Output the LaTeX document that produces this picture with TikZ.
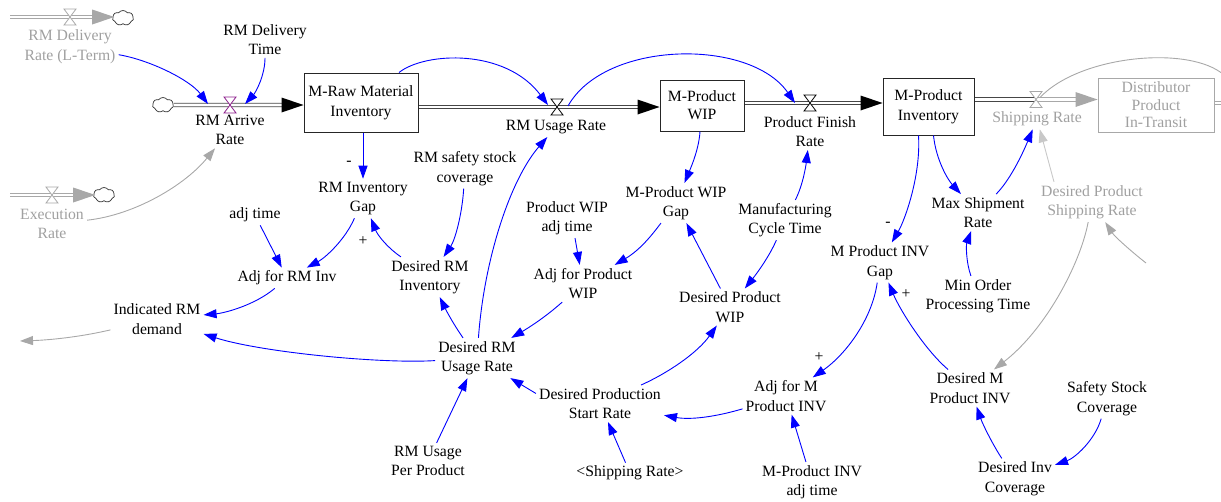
\documentclass[tikz,border=0pt]{standalone}
\usepackage{fontspec}
\setmainfont{Liberation Serif}
\usetikzlibrary{arrows.meta,calc,shapes.symbols}
\definecolor{linkblue}{RGB}{0,0,255}
\definecolor{ghost}{RGB}{160,160,160}
\definecolor{ghostlink}{RGB}{168,168,168}
\definecolor{ghostlight}{RGB}{200,200,200}
\definecolor{valvepurple}{RGB}{140,30,140}
\definecolor{pipegray}{RGB}{70,70,70}
\newcommand\vfont{\fontsize{15.7}{19.5}\selectfont}
\newcommand\flowhead[2][black]{\fill[#1] (#2) -- ++(-22,-7.5) -- ++(0,15) -- cycle;}
\tikzset{
  var/.style={align=center, font=\vfont, inner sep=3pt},
  gvar/.style={var, text=ghost},
  stock/.style={draw=black!85, line width=1pt, align=center, font=\vfont, inner sep=0pt},
  link/.style={draw=linkblue, line width=0.9pt, -{Triangle[length=13pt,width=9pt]}},
  glink/.style={link, draw=ghostlink},
  pipe/.style={draw=pipegray, line width=0.9pt, double=white, double distance=2.6pt},
  gpipe/.style={pipe, draw=ghostlink},
  cloudnode/.style={cloud, draw=black!80, cloud puffs=7, cloud puff arc=110,
    minimum width=21pt, minimum height=15pt, inner sep=0pt, fill=white, line width=0.7pt},
  valve/.pic={
    \draw[fill=white, line width=0.8pt, pic actions] (-6,-8) -- (6,-8) -- (-6,8) -- (6,8) -- cycle;
  },
  sign/.style={font=\vfont, inner sep=0pt},
}
\begin{document}
\begin{tikzpicture}[x=1pt, y=-1pt]
\path[use as bounding box, clip] (0,0) rectangle (1221,501);

% ---------- stocks ----------
\node[stock, minimum width=114pt, minimum height=59pt] (mraw) at (361,102.5) {M-Raw Material\\Inventory};
\node[stock, minimum width=84pt, minimum height=51pt, font=\fontsize{15.7}{18}\selectfont] (mpw) at (702,105.5) {M-Product\\WIP};
\node[stock, minimum width=91pt, minimum height=57pt] (inv) at (928.5,106.5) {M-Product\\Inventory};
\node[stock, draw=ghostlink, text=ghost, minimum width=116pt, minimum height=54pt,
      font=\fontsize{15.7}{17.5}\selectfont] (dist) at (1156,105) {Distributor\\Product\\In-Transit};

% ---------- valve positions and free ends ----------
\coordinate (vArr)  at (230,105);
\coordinate (vUse)  at (557,107);
\coordinate (vFin)  at (810,103);
\coordinate (vShip) at (1036,99.5);
\coordinate (vDel)  at (70,17);
\coordinate (vExe)  at (52,195);
\coordinate (srcDel) at (10,17);
\coordinate (srcExe) at (10,195);
\coordinate (irdOut) at (20,341);
\coordinate (dpshIn) at (1146,263);
\coordinate (shipArcEnd) at (1224,75);

% ---------- clouds ----------
\node[cloudnode] (cl1) at (163,105) {};
\node[cloudnode] (cl2) at (123,18) {};
\node[cloudnode] (cl3) at (104,195) {};

% ---------- pipes ----------
\draw[pipe] (cl1.east) -- ($(mraw.west|-vArr)+(-20,0)$);
\flowhead{mraw.west|-vArr}
\draw[pipe] (mraw.east|-vUse) -- ($(mpw.west|-vUse)+(-20,0)$);
\flowhead{mpw.west|-vUse}
\draw[pipe] (mpw.east|-vFin) -- ($(inv.west|-vFin)+(-20,0)$);
\flowhead{inv.west|-vFin}
\draw[pipe] (inv.east|-vShip) -- (vShip);
\draw[gpipe] (vShip) -- ($(dist.west|-vShip)+(-20,0)$);
\flowhead[ghostlink]{dist.west|-vShip}
\draw[gpipe] (dist.east|-0,103) -- (1226,103);
\draw[gpipe] (srcDel) -- ($(cl2.west|-vDel)+(-18,0)$);
\flowhead[ghostlink]{$(cl2.west|-vDel)+(2,0)$}
\draw[gpipe] (srcExe) -- ($(cl3.west|-vExe)+(-18,0)$);
\flowhead[ghostlink]{$(cl3.west|-vExe)+(2,0)$}

% ---------- valves ----------
\pic[draw=valvepurple] at (vArr) {valve};
\pic[draw=black] at (vUse) {valve};
\pic[draw=black] at (vFin) {valve};
\pic[draw=ghostlink] at (vShip) {valve};
\pic[draw=ghostlink] at (vDel) {valve};
\pic[draw=ghostlink] at (vExe) {valve};

% ---------- auxiliaries ----------
\node[gvar] (rmdr) at (70,46.5) {RM Delivery\\Rate (L-Term)};
\node[var] (rmdt) at (265,39.5) {RM Delivery\\Time};
\node[var] (rmar) at (230,130) {RM Arrive\\Rate};
\node[var] (rmur) at (556,127) {RM Usage Rate};
\node[var] (pfr) at (810,131.5) {Product Finish\\Rate};
\node[gvar] (shr) at (1037,119) {Shipping Rate};
\node[gvar] (exr) at (52,224) {Execution\\Rate};
\node[var] (rmig) at (363,198.5) {RM Inventory\\Gap};
\node[var] (adjt) at (255,215) {adj time};
\node[var] (arm) at (287,278) {Adj for RM Inv};
\node[var] (drmi) at (430,277) {Desired RM\\Inventory};
\node[var] (rmss) at (465,168.5) {RM safety stock\\coverage};
\node[var] (ird) at (157,319) {Indicated RM\\demand};
\node[var] (drmur) at (477,358) {Desired RM\\Usage Rate};
\node[var] (rmupp) at (428,461) {RM Usage\\Per Product};
\node[var] (dpsr) at (600,403.5) {Desired Production\\Start Rate};
\node[var] (shrg) at (630,473) {<Shipping Rate>};
\node[var] (amp) at (786,396) {Adj for M\\Product INV};
\node[var] (mpiat) at (812,482) {M-Product INV\\adj time};
\node[var] (mpig) at (880,262.5) {M Product INV\\Gap};
\node[var] (dmpi) at (970,388) {Desired M\\Product INV};
\node[var] (dic) at (1015,478.5) {Desired Inv\\Coverage};
\node[var] (ssc) at (1107,398.5) {Safety Stock\\Coverage};
\node[gvar] (dpsh) at (1092,202) {Desired Product\\Shipping Rate};
\node[var] (msr) at (978,212.5) {Max Shipment\\Rate};
\node[var] (mopt) at (978,296) {Min Order\\Processing Time};
\node[var] (mct) at (785,220) {Manufacturing\\Cycle Time};
\node[var] (dpw) at (730,307) {Desired Product\\WIP};
\node[var] (mpwg) at (676,203) {M-Product WIP\\Gap};
\node[var] (pwat) at (567,218) {Product WIP\\adj time};
\node[var] (apw) at (583,283.5) {Adj for Product\\WIP};

% ---------- polarity signs ----------
\node[sign] (sg1) at (349,163) {-};
\node[sign] (sg2) at (363,241) {+};
\node[sign] (sg3) at (888,224) {-};
\node[sign] (sg4) at (819,357) {+};
\node[sign] (sg5) at (906,294) {+};

% ---------- causal links ----------
\draw[link] (rmdr) .. controls (150,60) and (190,80) .. ($(vArr)+(-22,-1)$);
\draw[link] (rmdt) .. controls (265,75) and (256,92) .. ($(vArr)+(15,-1)$);
\draw[glink] (exr) .. controls (135,215) and (185,185) .. (rmar);
\draw[link] (mraw) .. controls (425,52) and (505,48) .. ($(vUse)+(-9,-2)$);
\draw[link] ($(vUse)+(11,-1)$) .. controls (605,40) and (750,38) .. ($(vFin)+(-15,0)$);
\draw[link] (mraw.south-|rmig) -- (rmig);
\draw[link] (adjt) -- (arm);
\draw[link] (rmig) .. controls (345,240) and (325,258) .. (arm);
\draw[link] (drmi) .. controls (388,248) and (378,236) .. (rmig);
\draw[link] (rmss) .. controls (462,215) and (455,240) .. (drmi);
\draw[link] (arm) .. controls (255,305) and (225,313) .. (ird);
\draw[link] (drmur) .. controls (380,364) and (260,352) .. (ird);
\draw[glink] (ird) .. controls (80,337) and (50,340) .. (irdOut);
\draw[link] (drmur) .. controls (452,322) and (445,308) .. (drmi);
\draw[link] (drmur) .. controls (484,260) and (510,180) .. (rmur);
\draw[link] (apw) .. controls (550,313) and (535,324) .. (drmur);
\draw[link] ($(dpsr.west)+(0,-10)$) -- (drmur);
\draw[link] (rmupp) -- (drmur);
\draw[link] (shrg) -- (dpsr);
\draw[link] (dpsr) .. controls (670,372) and (698,352) .. (dpw);
\draw[link] (amp) .. controls (715,417) and (690,420) .. (dpsr);
\draw[link] (mpiat) -- (amp);
\draw[link] (mpig) .. controls (872,320) and (845,355) .. (amp);
\draw[link] (dmpi) .. controls (925,350) and (900,310) .. (mpig);
\draw[link] ($(inv.south)+(-10,0)$) .. controls (921,175) and (905,220) .. (mpig);
\draw[link] ($(inv.south)+(5,0)$) .. controls (936,160) and (948,180) .. (msr);
\draw[link] (msr) .. controls (1010,180) and (1022,155) .. (shr);
\draw[glink, draw=ghostlight] ($(dpsh.north)+(-38,0)$) -- (shr);
\draw[link] (mopt) .. controls (966,262) and (966,245) .. (msr);
\draw[link] (mct) .. controls (803,185) and (806,165) .. (pfr);
\draw[link] (mct) .. controls (770,255) and (758,272) .. (dpw);
\draw[link] (dpw) -- (mpwg);
\draw[link] ($(mpw.south)+(-2,0)$) .. controls (699,148) and (692,165) .. (mpwg);
\draw[link] (mpwg) .. controls (652,235) and (640,250) .. (apw);
\draw[link] ($(pwat.south)+(8,0)$) -- (apw);
\draw[link] (dic) .. controls (993,445) and (983,425) .. (dmpi);
\draw[link] (ssc) .. controls (1095,440) and (1075,458) .. (dic);
\draw[glink] (dpsh) .. controls (1080,265) and (1045,330) .. (dmpi);
\draw[glink] (dpshIn) .. controls (1132,252) and (1115,237) .. (dpsh);
\draw[draw=ghostlink, line width=0.9pt] ($(vShip)+(4,-2)$) .. controls (1080,55) and (1190,45) .. (shipArcEnd);
\end{tikzpicture}
\end{document}
